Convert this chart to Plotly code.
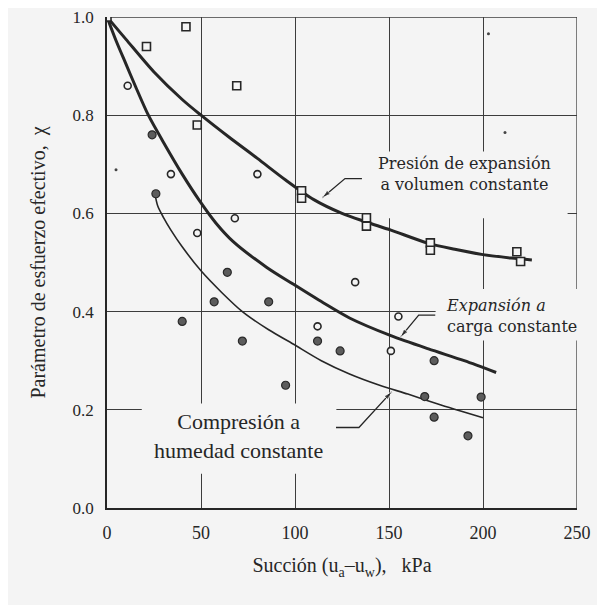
# Packages:
import plotly.graph_objects as go

# Data:
# Presion de expansion a volumen constante (open squares)
sq_x = [0, 21, 42, 48, 69, 103.5, 103.5, 138, 138, 172, 172, 218, 220]
sq_y = [1.0, 0.94, 0.98, 0.78, 0.86, 0.646, 0.631, 0.591, 0.574, 0.54, 0.525, 0.522, 0.502]
# Expansion a carga constante (open circles)
oc_x = [11, 34, 48, 68, 80, 112, 132, 151, 155]
oc_y = [0.86, 0.68, 0.56, 0.59, 0.68, 0.37, 0.46, 0.32, 0.39]
# Compresion a humedad constante (filled circles)
fc_x = [24, 26, 40, 57, 64, 72, 86, 95, 112, 124, 169, 174, 174, 192, 199]
fc_y = [0.76, 0.64, 0.38, 0.42, 0.48, 0.34, 0.42, 0.25, 0.34, 0.32, 0.227, 0.30, 0.185, 0.147, 0.226]
# Fitted curves
c1_x = [0, 10, 25, 40, 50, 65, 80, 95, 110, 125, 137.5, 151, 171, 185, 200, 215, 226]
c1_y = [1.0, 0.955, 0.888, 0.832, 0.80, 0.755, 0.712, 0.668, 0.628, 0.600, 0.583, 0.566, 0.539, 0.527, 0.516, 0.509, 0.505]
c2_x = [0, 5, 10, 15, 22, 30, 40, 49, 58, 67, 85, 99, 115, 129, 151, 171, 190, 207]
c2_y = [1.0, 0.95, 0.905, 0.86, 0.80, 0.745, 0.68, 0.627, 0.580, 0.543, 0.49, 0.456, 0.418, 0.387, 0.351, 0.324, 0.30, 0.276]
c3_x = [25.4, 27, 30, 34, 40, 50, 61, 72, 86, 99, 114, 129, 145, 160, 176, 200]
c3_y = [0.642, 0.615, 0.592, 0.566, 0.532, 0.483, 0.439, 0.40, 0.363, 0.334, 0.30, 0.273, 0.25, 0.232, 0.212, 0.184]
# Scan specks
sp_x = [4.8, 202.9, 211.7]
sp_y = [0.689, 0.966, 0.765]
# Leader lines (label end, elbow, arrow tip)
ld1_x = [135.6, 126.6, 114.5]
ld1_y = [0.671, 0.671, 0.632]
ld2_x = [174.6, 165.8, 156.1]
ld2_y = [0.393, 0.393, 0.348]
ld3_x = [121.8, 134, 151.5]
ld3_y = [0.164, 0.164, 0.237]
# Ticks
x_ticks = [0, 50, 100, 150, 200, 250]
y_ticks = [0.0, 0.2, 0.4, 0.6, 0.8, 1.0]

# Style:
bg = "#f4f4f4"
ink = "#262626"
grid = "#3c3c3c"
serif = "Liberation Serif, Times New Roman, serif"
wide_serif = "DejaVu Serif, serif"

def curve(x, y, w):
    return go.Scatter(x = x, y = y, mode = "lines",
                      line = {"width": w, "color": ink, "shape": "spline", "smoothing": 0.8},
                      showlegend = False, hoverinfo = "skip")

def leader(x, y):
    return go.Scatter(x = x, y = y, mode = "lines+markers",
                      line = {"width": 1.3, "color": ink},
                      marker = {"symbol": "arrow", "angleref": "previous",
                                "size": [0, 0, 9], "color": ink},
                      showlegend = False, hoverinfo = "skip")

# Plot:
fig = go.Figure(
    data = [
        curve(c1_x, c1_y, 3),
        curve(c2_x, c2_y, 3),
        curve(c3_x, c3_y, 1.6),
        leader(ld1_x, ld1_y),
        leader(ld2_x, ld2_y),
        leader(ld3_x, ld3_y),
        go.Scatter(x = sq_x, y = sq_y, mode = "markers",
                   marker = {"symbol": "square", "size": 8, "color": bg,
                             "line": {"width": 1.6, "color": ink}},
                   showlegend = False),
        go.Scatter(x = oc_x, y = oc_y, mode = "markers",
                   marker = {"symbol": "circle", "size": 7, "color": bg,
                             "line": {"width": 1.6, "color": ink}},
                   showlegend = False),
        go.Scatter(x = fc_x, y = fc_y, mode = "markers",
                   marker = {"symbol": "circle", "size": 8, "color": "#5c5c5c",
                             "line": {"width": 1.2, "color": "#2a2a2a"}},
                   showlegend = False),
        go.Scatter(x = sp_x, y = sp_y, mode = "markers",
                   marker = {"size": 3, "color": "#444"},
                   showlegend = False)
    ]
)

x_max = x_ticks[-1]
y_max = y_ticks[-1]
# Top and right frame (plotly skips gridlines on the plot edges):
shapes = [
    dict(type = "line", xref = "x", yref = "y", x0 = 0, x1 = x_max, y0 = y_max, y1 = y_max,
         line = {"width": 1.3, "color": grid}, layer = "between"),
    dict(type = "line", xref = "x", yref = "y", x0 = x_max, x1 = x_max, y0 = 0, y1 = y_max,
         line = {"width": 1.3, "color": grid}, layer = "between"),
]
# Masks that break the grid behind the labels:
masks = [
    (18.5, 122, 0.07, 0.213),
    (135.6, 245, 0.59, 0.726),
    (174.8, 253, 0.341, 0.446)
]
for x0, x1, y0, y1 in masks:
    shapes.append(dict(type = "rect", xref = "x", yref = "y",
                       x0 = x0, x1 = x1, y0 = y0, y1 = y1,
                       fillcolor = bg, line = {"width": 0}, layer = "between"))

annotations = [
    dict(x = 190, y = 0.68, xref = "x", yref = "y", showarrow = False,
         text = "Presión de expansión<br>a volumen constante",
         align = "center", font = dict(family = wide_serif, size = 16, color = ink)),
    dict(x = 179, y = 0.391, xref = "x", yref = "y", showarrow = False,
         xanchor = "left",
         text = "<i>Expansión a</i><br>carga constante",
         align = "left", font = dict(family = wide_serif, size = 16, color = ink)),
    dict(x = 70, y = 0.146, xref = "x", yref = "y", showarrow = False,
         text = "Compresión a<br>humedad constante",
         align = "center", font = dict(family = serif, size = 22, color = ink)),
]

# the page body adds an 8 px offset, so the margins absorb it
fig.update_layout(
    width = 605,
    height = 605,
    margin = dict(l = 99, r = 36, t = 9, b = 105),
    paper_bgcolor = bg,
    plot_bgcolor = bg,
    font = dict(family = serif, size = 18, color = ink),
    shapes = shapes,
    annotations = annotations,
    xaxis = dict(
        range = [0, x_max],
        tickvals = x_ticks,
        ticktext = [str(v) for v in x_ticks],
        tickfont = dict(size = 18),
        ticklabelstandoff = 8,
        ticklabeloverflow = "allow",
        automargin = False,
        showgrid = True,
        gridcolor = grid,
        gridwidth = 1,
        zeroline = False,
        showline = True,
        linecolor = ink,
        linewidth = 1.5,
        title = dict(text = "Succión (u<sub>a</sub>–u<sub>w</sub>),   kPa",
                     font = dict(size = 20), standoff = 16)
    ),
    yaxis = dict(
        range = [0, y_max],
        tickvals = y_ticks,
        ticktext = ["%.1f" % v for v in y_ticks],
        tickfont = dict(size = 17),
        ticklabelstandoff = 8,
        ticklabeloverflow = "allow",
        automargin = False,
        showgrid = True,
        gridcolor = grid,
        gridwidth = 1,
        zeroline = False,
        showline = True,
        linecolor = ink,
        linewidth = 1.5,
        title = dict(text = "Parámetro de esfuerzo efectivo,  χ",
                     font = dict(size = 20), standoff = 22)
    )
)
fig.write_html("out.html")
